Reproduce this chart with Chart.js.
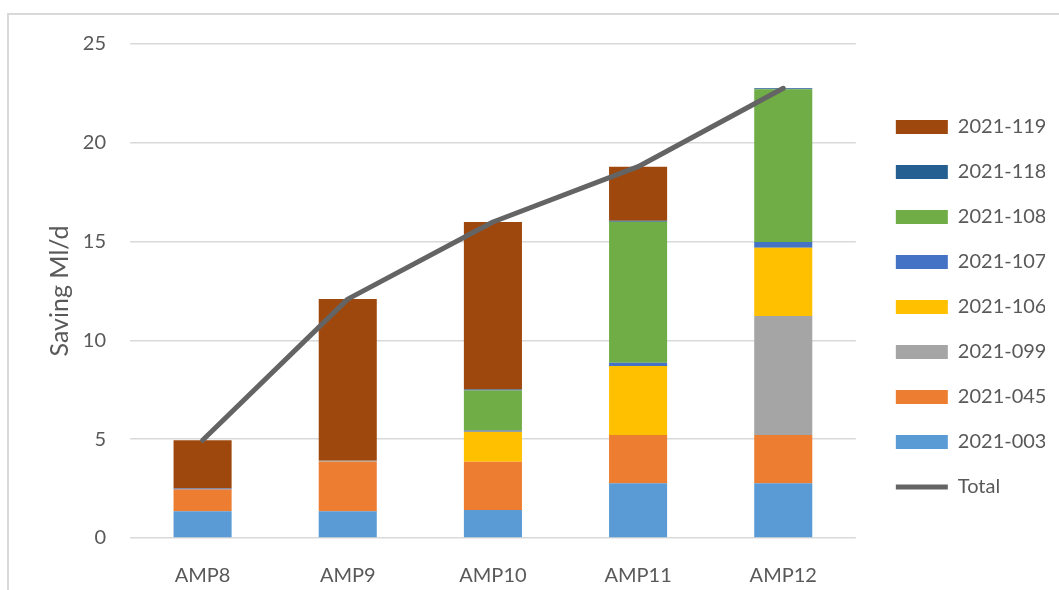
<!DOCTYPE html>
<html>
<head>
<meta charset="utf-8">
<title>Saving Ml/d by AMP period</title>
<script src="https://cdn.jsdelivr.net/npm/chart.js@4.4.1/dist/chart.umd.min.js"></script>
<style>
  html, body { margin: 0; padding: 0; background: #ffffff; overflow: hidden; }
  #wrap { position: relative; width: 1059px; height: 590px; }
  #frame {
    position: absolute; left: 7px; top: 13px; width: 1200px; height: 700px;
    border-left: 2px solid #d9d9d9; border-top: 2px solid #d9d9d9;
  }
  #chart { position: absolute; left: 0; top: 0; }
</style>
</head>
<body>
<div id="wrap">
  <div id="frame"></div>
  <canvas id="chart" width="1059" height="590"></canvas>
</div>
<script>
// AMP periods on the category axis
const periods = ['AMP8', 'AMP9', 'AMP10', 'AMP11', 'AMP12'];

// Savings (Ml/d) per scheme, stacked bottom to top
const s2021_003 = [1.35, 1.35, 1.42, 2.77, 2.77];
const s2021_045 = [1.11, 2.51, 2.44, 2.44, 2.44];
const s2021_099 = [0, 0.05, 0, 0, 6.02];
const s2021_106 = [0, 0, 1.52, 3.49, 3.46];
const s2021_107 = [0.05, 0, 0.06, 0.17, 0.29];
const s2021_108 = [0, 0, 2.03, 7.14, 7.73];
const s2021_118 = [0, 0, 0.05, 0.05, 0.05];
const s2021_119 = [2.44, 8.18, 8.47, 2.73, 0];

// Cumulative total line
const totalSaving = [4.95, 12.09, 15.99, 18.79, 22.76];

// Value axis ticks
const yTicks = [0, 5, 10, 15, 20, 25];

const textColor = '#595959';
const gridColor = '#d9d9d9';

Chart.defaults.font.family = 'Lato, "Open Sans", sans-serif';
Chart.defaults.font.size = 20;
Chart.defaults.color = textColor;

function barSet(label, data, color) {
  return {
    type: 'bar', label, data,
    backgroundColor: color, borderColor: color, borderWidth: 0,
    stack: 'amp', pointStyle: 'rect'
  };
}

const datasets = [
  barSet('2021-003', s2021_003, '#5B9BD5'),
  barSet('2021-045', s2021_045, '#ED7D31'),
  barSet('2021-099', s2021_099, '#A5A5A5'),
  barSet('2021-106', s2021_106, '#FFC000'),
  barSet('2021-107', s2021_107, '#4472C4'),
  barSet('2021-108', s2021_108, '#70AD47'),
  barSet('2021-118', s2021_118, '#255E91'),
  barSet('2021-119', s2021_119, '#9E480E'),
  {
    type: 'line', label: 'Total', data: totalSaving,
    borderColor: '#646464', backgroundColor: '#646464',
    borderWidth: 5, borderCapStyle: 'round', borderJoinStyle: 'round',
    pointRadius: 0, pointHoverRadius: 0, pointStyle: 'line',
    tension: 0, fill: false, stack: 'total', order: -1
  }
];

const lastBar = 7;

new Chart(document.getElementById('chart'), {
  data: { labels: periods, datasets },
  options: {
    responsive: false,
    devicePixelRatio: 1,
    animation: false,
    layout: { padding: { left: 0, top: 44, right: 14, bottom: 0 } },
    datasets: { bar: { barPercentage: 0.4, categoryPercentage: 1.0 } },
    plugins: {
      tooltip: { enabled: false },
      legend: {
        position: 'right',
        fullSize: false,
        title: { display: true, text: ' ', font: { size: 10 }, padding: 10 },
        labels: {
          usePointStyle: true,
          pointStyleWidth: 52,
          boxHeight: 14,
          padding: 25,
          color: textColor,
          font: { size: 20 },
          sort: (a, b) => {
            const key = it => (it.datasetIndex > lastBar ? 100 : -it.datasetIndex);
            return key(a) - key(b);
          }
        }
      }
    },
    scales: {
      x: {
        stacked: true,
        grid: { display: false },
        border: { display: false },
        ticks: { padding: 18, color: textColor, font: { size: 20 } },
        afterFit: s => { s.height = 52; }
      },
      y: {
        stacked: true,
        min: 0, max: 25,
        afterBuildTicks: s => { s.ticks = yTicks.map(v => ({ value: v })); },
        grid: { color: gridColor, lineWidth: 1.5, drawTicks: false },
        border: { display: false },
        ticks: { padding: 24, color: textColor, font: { size: 20 } },
        title: {
          display: true, text: 'Saving Ml/d', color: textColor,
          font: { size: 25 }, padding: { top: 45, bottom: 0 }
        },
        afterFit: s => { s.width = 130; }
      },
      gap: {
        type: 'linear', position: 'right', display: true,
        grid: { display: false }, border: { display: false },
        ticks: { display: false },
        afterFit: s => { s.width = 15; }
      }
    }
  }
});
</script>
</body>
</html>
